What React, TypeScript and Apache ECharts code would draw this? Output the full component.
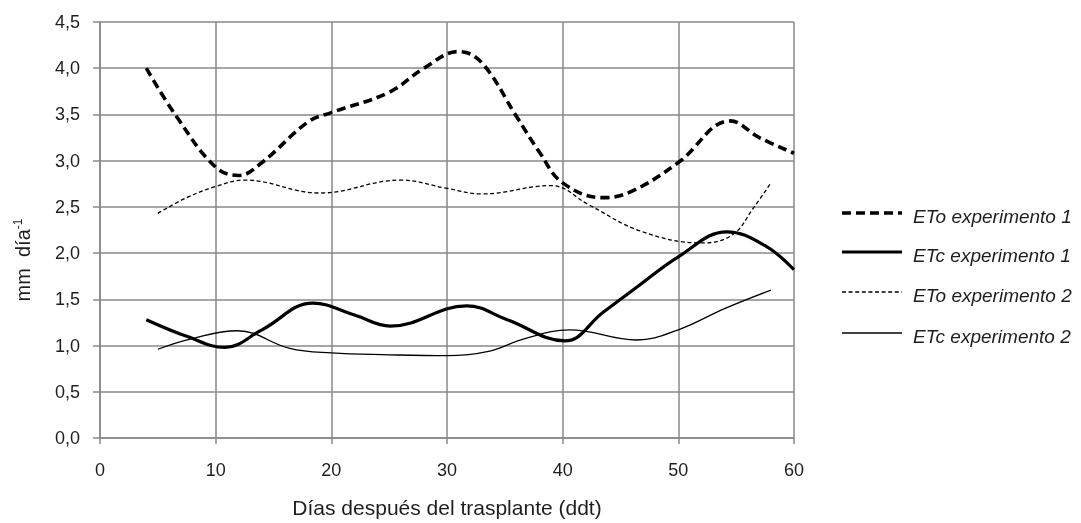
import React, { useEffect, useRef } from "react";
import * as echarts from "echarts";

const FONT = "'Liberation Sans', Arial, sans-serif";

const xTicks = [0, 10, 20, 30, 40, 50, 60];
const yTicks = [0, 0.5, 1, 1.5, 2, 2.5, 3, 3.5, 4, 4.5];

const seriesNames = [
  "ETo experimento 1",
  "ETc experimento 1",
  "ETo experimento 2",
  "ETc experimento 2",
];

const etoExp1X = [4, 6.6, 10, 12, 14, 18, 20, 25, 28, 31, 33, 36, 38, 40, 43.5, 46, 50, 54.5, 57, 60];
const etoExp1Y = [4.0, 3.48, 2.93, 2.84, 2.98, 3.42, 3.52, 3.74, 4.0, 4.18, 4.06, 3.48, 3.09, 2.76, 2.6, 2.67, 2.98, 3.43, 3.25, 3.08];

const etcExp1X = [4, 7.5, 10.8, 14, 18.4, 22, 25.1, 31.7, 35.2, 40.2, 43.5, 46.4, 50, 54.2, 57.5, 60];
const etcExp1Y = [1.28, 1.1, 0.98, 1.17, 1.46, 1.33, 1.21, 1.43, 1.28, 1.05, 1.36, 1.63, 1.96, 2.23, 2.08, 1.82];

const etoExp2X = [5, 7.5, 10, 12.5, 19, 26, 30, 33, 39, 42.3, 46.7, 52, 54.7, 56.5, 58];
const etoExp2Y = [2.43, 2.6, 2.72, 2.79, 2.65, 2.79, 2.7, 2.64, 2.73, 2.52, 2.24, 2.11, 2.2, 2.49, 2.76];

const etcExp2X = [5, 7.8, 11.9, 16.4, 20, 25, 30, 33.7, 36.6, 40.6, 46.4, 50, 54, 58];
const etcExp2Y = [0.96, 1.07, 1.16, 0.97, 0.92, 0.9, 0.89, 0.94, 1.07, 1.17, 1.06, 1.17, 1.4, 1.6];

const pairs = (xs: number[], ys: number[]) => xs.map((x, i) => [x, ys[i]]);
const fmt = (v: number) => v.toFixed(1).replace(".", ",");

// visual style per series (same order as seriesNames)
const lineStyles = [
  { width: 3.6, dash: [9, 5] as number[] | null },
  { width: 3.2, dash: null },
  { width: 1.3, dash: [4, 2.6] as number[] | null },
  { width: 1.3, dash: null },
];

export default function App() {
  const ref = useRef<HTMLDivElement>(null);
  useEffect(() => {
    if (!ref.current) return;
    const chart = echarts.init(ref.current, undefined, { renderer: "svg" });
    const gridColor = "#898989";
    const textColor = "#1e1e1e";
    const dataSets = [
      pairs(etoExp1X, etoExp1Y),
      pairs(etcExp1X, etcExp1Y),
      pairs(etoExp2X, etoExp2Y),
      pairs(etcExp2X, etcExp2Y),
    ];
    const series = seriesNames.map((name, i) => ({
      name,
      type: "line",
      data: dataSets[i],
      smooth: 0.4,
      showSymbol: false,
      symbol: "none",
      lineStyle: {
        color: "#000",
        width: lineStyles[i].width,
        type: lineStyles[i].dash ? lineStyles[i].dash : "solid",
        cap: "butt",
      },
      emphasis: { disabled: true },
    }));

    const legendLineY = [213, 252, 292, 333];
    const legendGraphics = seriesNames.map((name, i) => ({
      type: "group",
      children: [
        {
          type: "line",
          shape: { x1: 842, y1: legendLineY[i], x2: 902, y2: legendLineY[i] },
          style: {
            stroke: "#000",
            lineWidth: lineStyles[i].width,
            lineDash: lineStyles[i].dash || undefined,
          },
        },
        {
          type: "text",
          x: 913,
          y: legendLineY[i] + 3,
          style: {
            text: name,
            fontFamily: FONT,
            fontSize: 19,
            fontStyle: "italic",
            fill: textColor,
            verticalAlign: "middle",
            align: "left",
          },
        },
      ],
    }));

    chart.setOption({
      animation: false,
      grid: { left: 100, right: 287, top: 22, bottom: 80 },
      xAxis: {
        type: "value",
        min: 0,
        max: 60,
        interval: 10,
        name: "Días después del trasplante (ddt)",
        nameLocation: "middle",
        nameGap: 59,
        nameTextStyle: { fontFamily: FONT, fontSize: 21, color: textColor },
        axisLine: { show: true, onZero: false, lineStyle: { color: gridColor, width: 1.5 } },
        axisTick: { show: true, length: 6, lineStyle: { color: gridColor, width: 1.5 } },
        axisLabel: {
          fontFamily: FONT,
          fontSize: 18,
          color: textColor,
          margin: 23,
          formatter: (v: number) => (xTicks.includes(v) ? String(v) : ""),
        },
        splitLine: { show: true, lineStyle: { color: gridColor, width: 1.5 } },
      },
      yAxis: {
        type: "value",
        min: 0,
        max: 4.5,
        interval: 0.5,
        axisLine: { show: true, lineStyle: { color: gridColor, width: 1.5 } },
        axisTick: { show: true, length: 7, lineStyle: { color: gridColor, width: 1.5 } },
        axisLabel: {
          fontFamily: FONT,
          fontSize: 18,
          color: textColor,
          margin: 20,
          formatter: (v: number) => (yTicks.includes(v) ? fmt(v) : ""),
        },
        splitLine: { show: true, lineStyle: { color: gridColor, width: 1.5 } },
      },
      graphic: [
        {
          type: "text",
          x: 23,
          y: 260,
          rotation: Math.PI / 2,
          style: {
            text: "{n|mm  día}{s|-1}",
            align: "center",
            verticalAlign: "middle",
            fontFamily: FONT,
            fill: textColor,
            rich: {
              n: { fontFamily: FONT, fontSize: 20, fill: textColor },
              s: { fontFamily: FONT, fontSize: 12, fill: textColor, padding: [0, 0, 10, 0] },
            },
          },
        },
        ...legendGraphics,
      ],
      series,
    });
    return () => chart.dispose();
  }, []);
  return (
    <div
      ref={ref}
      style={{ position: "fixed", left: 0, top: 0, width: 1081, height: 523 }}
    />
  );
}
